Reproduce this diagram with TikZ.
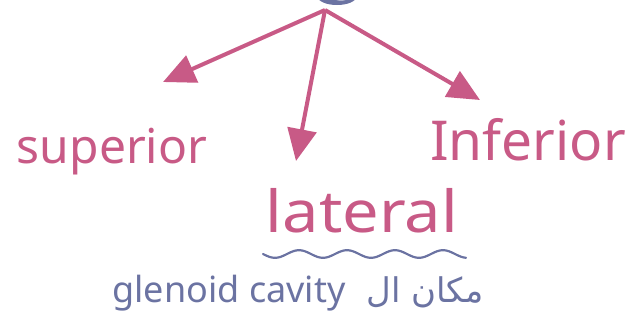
\documentclass[tikz,border=0pt]{standalone}
\usepackage{fontspec}
\setmainfont{Noto Sans}
\newfontfamily\arabicfont[Script=Arabic]{DejaVu Sans}
\TeXXeTstate=1
\usetikzlibrary{arrows.meta}
\definecolor{pinkink}{HTML}{C85A86}
\definecolor{blueink}{HTML}{6B73A2}
\tikzset{
  arr/.style={draw=pinkink, line width=4pt, -{Triangle[length=32pt,width=29pt]}},
  pinktext/.style={text=pinkink, inner sep=0pt, anchor=base},
  bluetext/.style={text=blueink, inner sep=0pt, anchor=base},
}
\begin{document}
\begin{tikzpicture}[x=1pt,y=-1pt]
\useasboundingbox (0,0) rectangle (641,325);
\begin{scope}
\clip (0,0) rectangle (641,325);
\fill[blueink] (337,-3) ellipse [x radius=19, y radius=8];
\fill[blueink!55!white] (341,-3) ellipse [x radius=7, y radius=4];
\end{scope}
\coordinate (apex) at (325,10);
\coordinate (tipL) at (163,82);
\coordinate (tipD) at (296,161);
\coordinate (tipR) at (480,100);
\draw[arr] (apex) -- (tipL);
\draw[arr] (apex) -- (tipD);
\draw[arr] (apex) -- (tipR);
\node[pinktext, font=\fontsize{48}{50}\selectfont] (sup) at (112,163) {superior};
\node[pinktext, font=\fontsize{55}{57}\selectfont] (inf) at (528,160) {Inferior};
\node[pinktext, font=\fontsize{58}{60}\selectfont, xscale=1.12] (lat) at (362,232) {lateral};
\draw[blueink, line width=2.2pt, line cap=round] plot[domain=263:466, samples=120] (\x, {254+3.8*sin((\x-263)*7.5)});
\node[bluetext, font=\fontsize{36}{38}\selectfont] (glen) at (229,302) {glenoid cavity};
\node[bluetext, font=\arabicfont\fontsize{34}{36}\selectfont] (arab) at (425,302) {\beginR مكان ال\endR};
\end{tikzpicture}
\end{document}
